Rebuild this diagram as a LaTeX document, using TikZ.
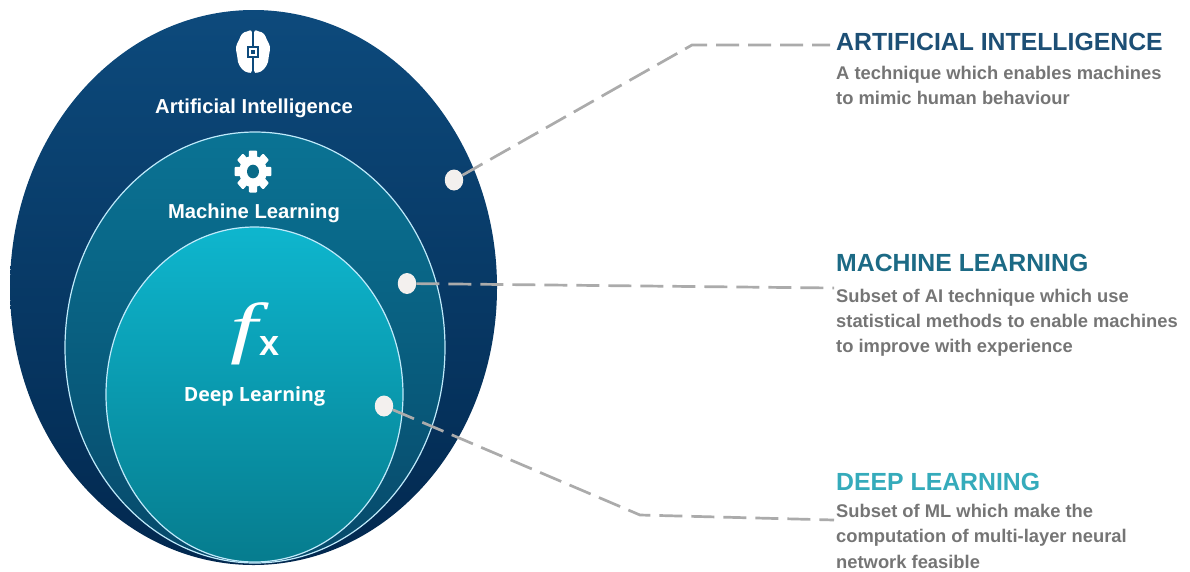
\documentclass[tikz,border=0pt]{standalone}
\usepackage{fontspec}
\setmainfont{Liberation Sans}
\newfontfamily\fxfont{Liberation Serif}
\newfontfamily\dlfont{Open Sans}
\usetikzlibrary{shapes.geometric}
\definecolor{aitop}{HTML}{0D4A7C}
\definecolor{aibot}{HTML}{02284F}
\definecolor{mltop}{HTML}{0A7394}
\definecolor{mlbot}{HTML}{07496A}
\definecolor{dltop}{HTML}{0EB6CE}
\definecolor{dlbot}{HTML}{067C8E}
\definecolor{aihead}{HTML}{1D4F75}
\definecolor{mlhead}{HTML}{1C6A85}
\definecolor{dlhead}{HTML}{35ABBB}
\definecolor{bodytxt}{HTML}{757575}
\definecolor{linegray}{HTML}{ABABAB}
\definecolor{dotfill}{HTML}{F3F0EE}
\tikzset{
 x=1pt,y=-1pt,
 blob/.style={ellipse,inner sep=0pt,outer sep=0pt},
 ringline/.style={draw=white!75!cyan,line width=1.2pt},
 dotnode/.style={ellipse,fill=dotfill,inner sep=0pt,minimum width=18.5pt,minimum height=21pt},
 link/.style={draw=linegray,line width=2.7pt,dash pattern=on 23pt off 9pt},
 inlabel/.style={text=white,font=\fontsize{20.2}{22}\selectfont\bfseries,inner sep=0pt},
 headtxt/.style={anchor=west,inner sep=0pt,font=\fontsize{24.8}{28}\selectfont\bfseries},
 bodylbl/.style={anchor=north west,inner sep=0pt,align=left,text=bodytxt,font=\fontsize{18.35}{25.4}\selectfont\bfseries},
}
\begin{document}
\begin{tikzpicture}
\useasboundingbox (0,0) rectangle (1190,571);
\node[blob,minimum width=487pt,minimum height=555pt,top color=aitop,bottom color=aibot] (ai) at (253.5,287.5) {};
\node[blob,ringline,minimum width=380pt,minimum height=431pt,top color=mltop,bottom color=mlbot] (ml) at (255,347.5) {};
\node[blob,ringline,minimum width=297pt,minimum height=335pt,top color=dltop,bottom color=dlbot] (dl) at (254.5,394.5) {};
% brain icon
\begin{scope}[shift={(253,52)}]
 \foreach \s in {-1,1}{
  \fill[white,xscale=\s] plot[smooth cycle,tension=0.7] coordinates {(1,-19.5) (6,-20.5) (11,-18) (14,-12) (17,-5) (16,3) (15,10) (11,17) (5,20.5) (1,18) (1,0)};
 }
 \fill[aitop] (-1,-20) rectangle (1,20);
 \fill[aitop] (-6,-6) rectangle (6,6);
 \fill[white] (-4,-4) rectangle (4,4);
 \fill[aitop] (-2,-2) rectangle (2,2);
\end{scope}
% gear icon
\begin{scope}[shift={(253,171.5)},xscale=0.92,yscale=1.05]
 \fill[white] (0,0) circle (15);
 \foreach \a in {0,45,...,315}{\fill[white,rotate=\a,rounded corners=1pt] (-4.5,-20) rectangle (4.5,-10);}
 \fill[mltop!92!black] (0,0) circle (6.5);
\end{scope}
\node[inlabel] (ailbl) at (254,108) {Artificial Intelligence};
\node[inlabel] (mllbl) at (254,213) {Machine Learning};
\node[text=white,inner sep=0pt,font=\dlfont\fontsize{19.6}{22}\selectfont\bfseries] (dllbl) at (254.5,396) {Deep Learning};
\node[text=white,inner sep=0pt,xscale=1.45,transform shape,font=\fxfont\fontsize{68}{68}\selectfont\itshape] (fxf) at (244.5,334) {f};
\node[text=white,inner sep=0pt,font=\fontsize{36}{36}\selectfont\bfseries] (fxx) at (269.5,346) {x};
\node[dotnode] (aidot) at (454,180) {};
\node[dotnode] (mldot) at (407,283.5) {};
\node[dotnode] (dldot) at (384,406) {};
\node[headtxt,text=aihead] (aih) at (836,42) {ARTIFICIAL INTELLIGENCE};
\node[bodylbl] (aib) at (836,66) {A technique which enables machines\\to mimic human behaviour};
\node[headtxt,text=mlhead] (mlh) at (836,263) {MACHINE LEARNING};
\node[bodylbl] (mlb) at (836,288.5) {Subset of AI technique which use\\statistical methods to enable machines\\to improve with experience};
\node[headtxt,text=dlhead] (dlh) at (836,482) {DEEP LEARNING};
\node[bodylbl] (dlb) at (836,504) {Subset of ML which make the\\computation of multi-layer neural\\network feasible};
\coordinate (aiel) at (692,45);
\coordinate (aiend) at (830,45);
\coordinate (mlend) at (834,288);
\coordinate (dlel) at (640,515);
\coordinate (dlend) at (834,520);
\draw[link] (aidot) -- (aiel) -- (aiend);
\draw[link] (mldot) -- (mlend);
\draw[link] (dldot) -- (dlel) -- (dlend);
\end{tikzpicture}
\end{document}
